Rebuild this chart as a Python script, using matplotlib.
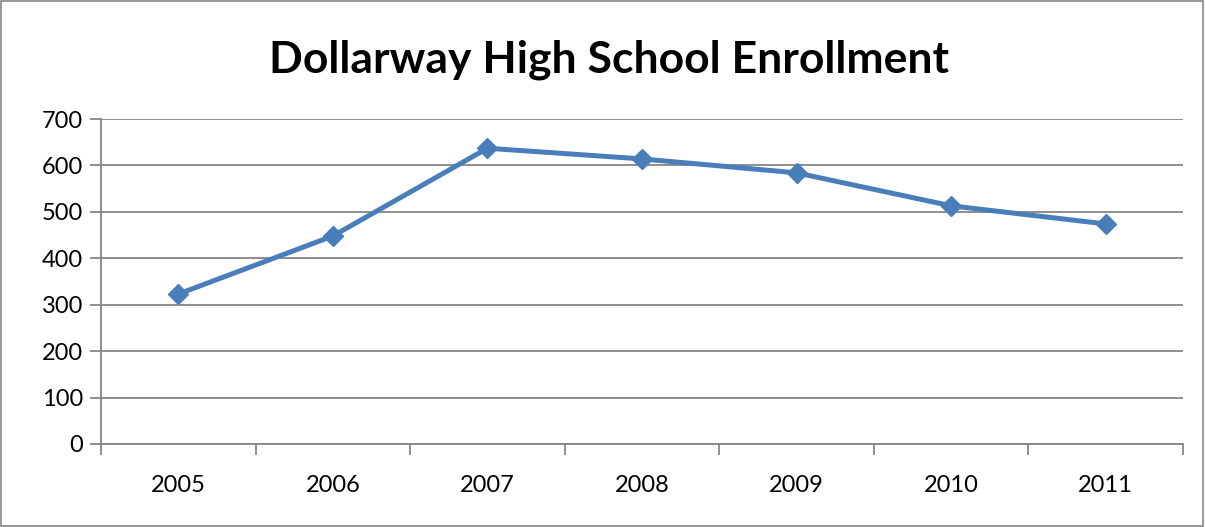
import matplotlib.pyplot as plt
from matplotlib.patches import Rectangle

years = ['2005', '2006', '2007', '2008', '2009', '2010', '2011']
enrollment = [323, 448, 637, 614, 584, 513, 474]
y_ticks = [0, 100, 200, 300, 400, 500, 600, 700]

plt.rcParams['font.family'] = ['Lato', 'DejaVu Sans']

fig = plt.figure(figsize=(12.05, 5.27), dpi=100)
ax = fig.add_axes([101/1205, 1 - 444/527, (1183 - 101)/1205, (444 - 119)/527])

x = range(len(years))
ax.plot(x, enrollment, color='#4A7EBB', linewidth=3.6, marker='D', markersize=10,
        markerfacecolor='#4A7EBB', markeredgecolor='#4A7EBB', zorder=3)

ax.set_xlim(-0.5, len(years) - 0.5)
ax.set_ylim(0, 700)
ax.set_yticks(y_ticks)
ax.set_yticklabels([str(v) for v in y_ticks])
ax.set_xticks([i for i in x])
ax.set_xticklabels(years)
ax.tick_params(axis='x', length=0, pad=22, labelsize=17)
ax.tick_params(axis='y', length=8, width=1.3, color='#868686', pad=5, labelsize=17)

# category boundary ticks below the axis
ax.set_xticks([i - 0.5 for i in range(len(years) + 1)], minor=True)
ax.tick_params(axis='x', which='minor', length=8, width=1.3, color='#868686')

ax.grid(axis='y', color='#868686', linewidth=1.3)
ax.set_axisbelow(True)
for side in ['top', 'right']:
    ax.spines[side].set_visible(False)
for side in ['left', 'bottom']:
    ax.spines[side].set_color('#868686')
    ax.spines[side].set_linewidth(1.3)

fig.text(0.505, 1 - 60/527, 'Dollarway High School Enrollment', ha='center', va='center',
         fontsize=32, fontweight='bold')

fig.patches.append(Rectangle((0.0005, 0.001), 0.998, 0.997, transform=fig.transFigure,
                             fill=False, edgecolor='#868686', linewidth=1.2))

fig.savefig('out.png', dpi=100)
